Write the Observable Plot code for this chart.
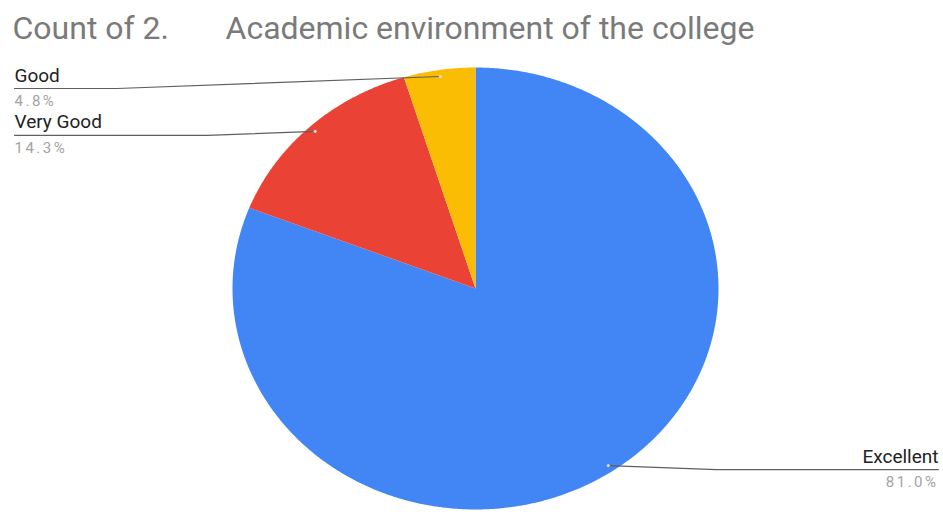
<!DOCTYPE html>
<html>
<head>
<meta charset="utf-8">
<script src="https://cdn.jsdelivr.net/npm/d3@7"></script>
<script src="https://cdn.jsdelivr.net/npm/@observablehq/plot@0.6"></script>
<style>
  html, body { margin: 0; padding: 0; background: #fff; }
  svg { font-family: Roboto, "Liberation Sans", Arial, sans-serif; }
</style>
</head>
<body>
<div id="chart"></div>
<script>
// ---- data ----
const titleLead = "Count of 2.";
const titleMain = "Academic environment of the college";
const categories = ["Excellent", "Very Good", "Good"];
const counts = [17, 3, 1];
const percentLabels = ["81.0%", "14.3%", "4.8%"];
const colors = ["#4285f4", "#ea4335", "#fbbc04"];
const labelSides = ["right", "left", "left"];

// ---- layout ----
const W = 943, H = 514;
const X = {domain: [-1, 1], range: [232, 718]};
const Y = {domain: [-1, 1], range: [509, 67]};
const sx = d3.scaleLinear(X.domain, X.range);
const sy = d3.scaleLinear(Y.domain, Y.range);
const leftEdge = sx.invert(14), rightEdge = sx.invert(938);

const arcs = d3.pie().sort(null).startAngle(0).endAngle(2 * Math.PI)(counts);

// slice outlines (in unit-circle data space, y up)
const slices = [];
arcs.forEach((a, i) => {
  const cat = categories[i];
  slices.push({cat, x: 0, y: 0});
  const n = Math.max(2, Math.ceil((a.endAngle - a.startAngle) / (Math.PI / 360)));
  for (let k = 0; k <= n; k++) {
    const t = a.startAngle + (a.endAngle - a.startAngle) * k / n;
    slices.push({cat, x: Math.sin(t), y: Math.cos(t)});
  }
});

// label anchors
const labels = arcs.map((a, i) => {
  const mid = (a.startAngle + a.endAngle) / 2;
  const dx = Math.sin(mid) * 0.97, dy = Math.cos(mid) * 0.97;
  const dotPy = sy(dy);
  const linePy = Math.max(dotPy + 4, 88);
  return {cat: categories[i], pct: percentLabels[i], side: labelSides[i],
          dotX: dx, dotY: dy, lineY: sy.invert(linePy), dotPy, linePy};
});
const leftLabels = labels.filter(l => l.side === "left");
const rightLabels = labels.filter(l => l.side === "right");
const leaders = [];
labels.forEach(l => {
  const edge = l.side === "left" ? leftEdge : rightEdge;
  const bendPx = sx(l.dotX) + (l.side === "left" ? -1 : 1) * 27 * (l.linePy - l.dotPy);
  leaders.push({cat: l.cat, x: edge, y: l.lineY});
  leaders.push({cat: l.cat, x: sx.invert(bendPx), y: l.lineY});
  leaders.push({cat: l.cat, x: l.dotX, y: l.dotY});
});

const nameStyle = {dy: -13, fontSize: 19, fill: "#222"};
const pctStyle = {dy: 13, fontSize: 15, fill: "#a3a3a3"};

const chart = Plot.plot({
  width: W, height: H,
  margin: 0,
  x: {...X, axis: null},
  y: {...Y, axis: null},
  color: {domain: categories, range: colors},
  marks: [
    Plot.line(slices, {x: "x", y: "y", z: "cat", fill: "cat", stroke: "none", curve: "linear-closed"}),
    Plot.line(leaders, {x: "x", y: "y", z: "cat", stroke: "#5f5f5f", strokeWidth: 1.2}),
    Plot.dot(labels, {x: "dotX", y: "dotY", r: 1.6, fill: "#d8d8d8", stroke: "none"}),
    Plot.text(leftLabels, {x: leftEdge, y: "lineY", text: "cat", textAnchor: "start", ...nameStyle}),
    Plot.text(rightLabels, {x: rightEdge, y: "lineY", text: "cat", textAnchor: "end", ...nameStyle}),
    Plot.text(leftLabels, {x: leftEdge, y: "lineY", text: "pct", textAnchor: "start", ...pctStyle}),
    Plot.text(rightLabels, {x: rightEdge, y: "lineY", text: "pct", textAnchor: "end", ...pctStyle}),
    Plot.text([titleLead], {frameAnchor: "top-left", dx: 12, dy: 28, text: d => d,
      textAnchor: "start", lineAnchor: "middle", fontSize: 32, fill: "#7a7a7a"}),
    Plot.text([titleMain], {frameAnchor: "top-left", dx: 225, dy: 28, text: d => d,
      textAnchor: "start", lineAnchor: "middle", fontSize: 32, fill: "#7a7a7a"})
  ]
});
d3.select(chart).selectAll("text")
  .filter(function () { return percentLabels.includes(this.textContent); })
  .attr("letter-spacing", 2.5);
document.getElementById("chart").appendChild(chart);
</script>
</body>
</html>
